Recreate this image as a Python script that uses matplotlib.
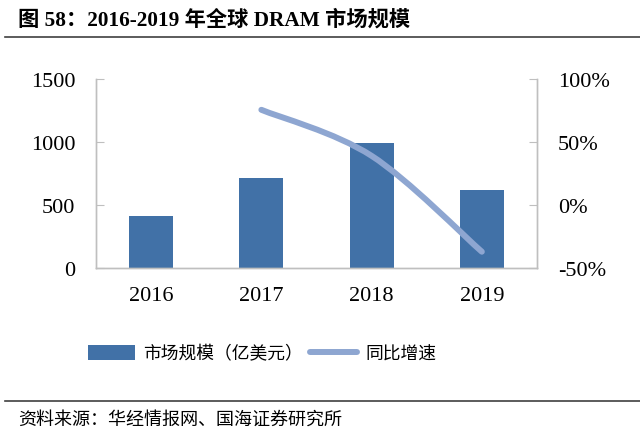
import numpy as np
import matplotlib.pyplot as plt
from matplotlib.path import Path
from matplotlib.patches import PathPatch
from matplotlib.lines import Line2D
from matplotlib.patches import Patch

# ============================== DATA ==============================
years = ['2016', '2017', '2018', '2019']
market = [412, 716, 990, 622]          # 市场规模 (亿美元)
growth_years = [1, 2, 3]               # index into years
growth = [75.5, 39.0, -37.0]           # 同比增速 (%)

# ============================== STYLE =============================
cjk = ['Noto Sans CJK SC', 'DejaVu Sans']
num = ['Liberation Serif', 'Noto Sans CJK SC']
bar_c = '#4171a7'
line_c = '#8ea6d1'
grey = '#bfbfbf'

fig = plt.figure(figsize=(6.4, 4.39), dpi=100)
ax = fig.add_axes([0.15, 0.387, 0.689, 0.431])
ax2 = ax.twinx()

x = np.arange(len(years))
ax.bar(x, market, width=0.4, color=bar_c, zorder=2)
ax.set_xlim(-0.5, len(years) - 0.5)
ax.set_ylim(0, 1500)
ax.set_yticks([0, 500, 1000, 1500])
ax.set_xticks(x)
ax.set_xticklabels(years)

# smooth line (Excel-like), bezier through the data points
pts = np.column_stack([np.array(growth_years, float), np.array(growth, float)])
ext = np.vstack([pts[0], pts, pts[-1]])
verts = [tuple(pts[0])]
codes = [Path.MOVETO]
for i in range(len(pts) - 1):
    p0, p1, p2, p3 = ext[i], ext[i + 1], ext[i + 2], ext[i + 3]
    c1 = p1 + (p2 - p0) / 6.0
    c2 = p2 - (p3 - p1) / 6.0
    verts += [tuple(c1), tuple(c2), tuple(p2)]
    codes += [Path.CURVE4] * 3
ax2.add_patch(PathPatch(Path(verts, codes), fill=False, edgecolor=line_c,
                        lw=4.3, capstyle='round', joinstyle='round', zorder=3))
ax2.set_ylim(-50, 100)
ax2.set_yticks([-50, 0, 50, 100])
ax2.set_yticklabels(['-50%', '0%', '50%', '100%'])

for a in (ax, ax2):
    a.spines['top'].set_visible(False)
    for s in ('left', 'right', 'bottom'):
        a.spines[s].set_color(grey)
        a.spines[s].set_linewidth(1.0)
    for lbl in a.get_yticklabels() + a.get_xticklabels():
        lbl.set_family(num)
        lbl.set_fontsize(16)
ax.tick_params(axis='y', direction='in', length=6, color=grey, pad=15)
ax.tick_params(axis='x', length=0, pad=13)
ax2.tick_params(axis='y', direction='in', length=6, color=grey, pad=15)
ax.set_zorder(ax2.get_zorder() - 1)
ax2.patch.set_visible(False)

# legend
handles = [Patch(facecolor=bar_c, edgecolor='none'),
           Line2D([0], [0], color=line_c, lw=4.3, solid_capstyle='round')]
leg = fig.legend(handles, ['市场规模（亿美元）', '同比增速'], loc='center',
                 bbox_to_anchor=(0.41, 0.193), ncol=2, frameon=False,
                 prop={'family': cjk, 'size': 12.8}, handlelength=2.6,
                 handleheight=0.9, columnspacing=0.4, handletextpad=0.5)

# title, rules and source
fig.text(0.028, 0.953, '图 58：2016-2019 年全球 DRAM 市场规模', family=num,
         fontsize=15.3, fontweight='bold', va='center', ha='left')
fig.add_artist(Line2D([0.008, 1.0], [0.914, 0.914], color='#404040', lw=1.2))
fig.add_artist(Line2D([0.008, 1.0], [0.084, 0.084], color='#404040', lw=1.2))
fig.text(0.028, 0.043, '资料来源：华经情报网、国海证券研究所', family=cjk,
         fontsize=13, va='center', ha='left')

plt.savefig('out.png', dpi=100)
